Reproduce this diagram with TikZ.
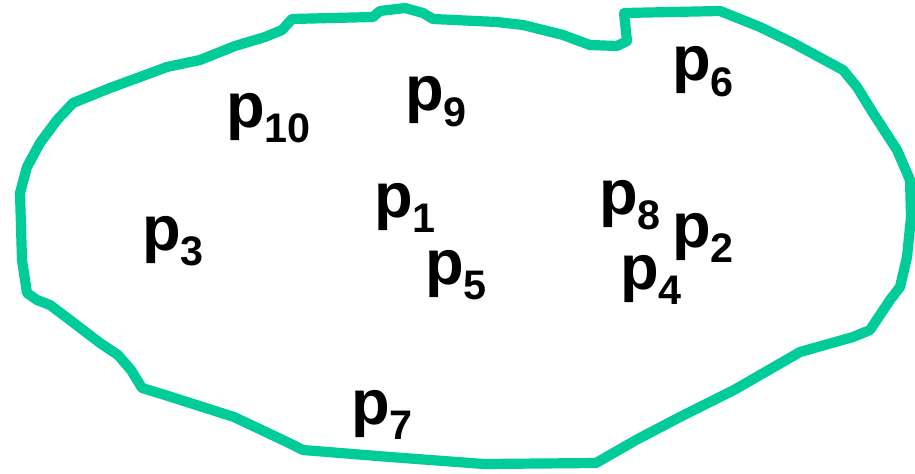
\documentclass[tikz,border=0pt]{standalone}
\usepackage{fontspec}
\setmainfont{Liberation Sans}
\definecolor{blobgreen}{HTML}{00CC99}
\newcommand{\plab}[1]{p\kern-0.5pt\raisebox{-9pt}{\fontsize{23.5}{25}\selectfont #1}}
\begin{document}
\begin{tikzpicture}[x=0.02cm,y=-0.02cm,
  blob/.style={draw=blobgreen,line width=5.8pt,line join=round,line cap=round},
  plabel/.style={anchor=base west,inner sep=0pt,font=\fontsize{36}{40}\selectfont\bfseries}]
\useasboundingbox (0,0) rectangle (915,473);
\draw[blob] (200,60) -- (235,46) -- (265,37) -- (282,30) -- (292,19) -- (373,17) -- (380,11) -- (405,8) -- (423,13) -- (433,19) -- (497,22) -- (523,25) -- (563,35) -- (590,45) -- (617,46) -- (627,41) -- (624,13) -- (720,11) -- (760,27) -- (793,43) -- (843,70) -- (857,87) -- (873,113) -- (897,150) -- (910,180) -- (911,217) -- (907,257) -- (900,287) -- (890,300) -- (870,330) -- (853,337) -- (800,352) -- (734,390) -- (680,417) -- (636,440) -- (596,463) -- (484,464) -- (390,457) -- (303,450) -- (287,442) -- (234,417) -- (165,395) -- (142,388) -- (131,370) -- (118,355) -- (100,343) -- (70,320) -- (50,305) -- (37,300) -- (27,293) -- (22,260) -- (20,193) -- (27,167) -- (40,143) -- (57,120) -- (73,103) -- (110,88) -- (140,77) -- (167,67) -- cycle;
\node[plabel] (p10) at (226,127) {\plab{10}};
\node[plabel] (p9) at (405,111) {\plab{9}};
\node[plabel] (p6) at (672,81) {\plab{6}};
\node[plabel] (p1) at (374,217) {\plab{1}};
\node[plabel] (p8) at (599,214) {\plab{8}};
\node[plabel] (p2) at (672,247) {\plab{2}};
\node[plabel] (p4) at (620,289) {\plab{4}};
\node[plabel] (p3) at (142,250) {\plab{3}};
\node[plabel] (p5) at (425,284) {\plab{5}};
\node[plabel] (p7) at (351,424) {\plab{7}};
\end{tikzpicture}
\end{document}
